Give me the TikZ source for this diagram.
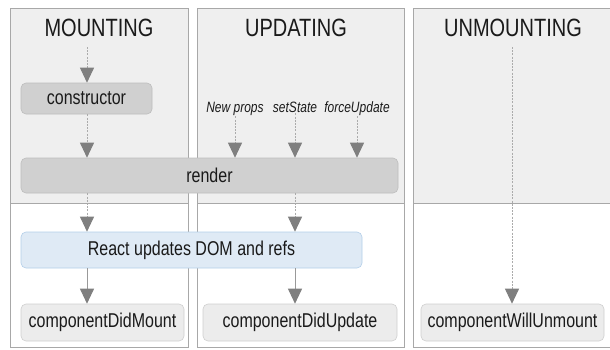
\documentclass[tikz,border=0pt]{standalone}
\usepackage{fontspec}
\setmainfont{Liberation Sans}[FakeStretch=0.8]
\usetikzlibrary{arrows.meta}
\definecolor{bandgrey}{HTML}{EFEFEF}
\definecolor{framegrey}{HTML}{A8A8A8}
\definecolor{boxgrey}{HTML}{D0D0D0}
\definecolor{boxedge}{HTML}{BDBDBD}
\definecolor{lightbox}{HTML}{ECECEC}
\definecolor{lightedge}{HTML}{CFCFCF}
\definecolor{domfill}{HTML}{DFEAF5}
\definecolor{domedge}{HTML}{B3CEE8}
\definecolor{headgrey}{HTML}{7F7F7F}
\definecolor{dashgrey}{HTML}{ABABAB}
\definecolor{inkc}{HTML}{1A1A1A}
\tikzset{
  phase/.style={draw=framegrey, line width=0.8pt},
  title/.style={font=\fontsize{25}{27}\selectfont, text=inkc, inner sep=0pt},
  darkbox/.style={draw=boxedge, fill=boxgrey, rounded corners=5pt, line width=0.6pt,
    font=\fontsize{20}{22}\selectfont, text=inkc, inner sep=0pt},
  lightboxs/.style={darkbox, draw=lightedge, fill=lightbox},
  dombox/.style={darkbox, draw=domedge, fill=domfill},
  trigger/.style={font=\fontsize{15}{17}\selectfont\itshape, text=inkc, inner sep=1pt},
  tip/.style={-{Triangle[width=14pt,length=15pt,color=headgrey]}},
  flowdash/.style={tip, draw=dashgrey, line width=0.9pt, dash pattern=on 2pt off 1.2pt},
  flowsolid/.style={tip, draw=headgrey!80, line width=0.9pt},
}
\begin{document}
\begin{tikzpicture}[x=1pt, y=-1pt]
\useasboundingbox (0,0) rectangle (610,349);

% three phase columns: grey upper band, white lower band
\foreach \xa/\xb in {10/188, 197/404, 413/616} {
  \fill[bandgrey] (\xa,8) rectangle (\xb,203);
  \draw[phase] (\xa,8) rectangle (\xb,347);
  \draw[phase] (\xa,203) -- (\xb,203);
}

% phase titles
\node[title] (tmount) at (99,28) {MOUNTING};
\node[title] (tupdate) at (296,28) {UPDATING};
\node[title] (tunmount) at (513,28) {UNMOUNTING};

% lifecycle boxes
\node[darkbox, minimum width=131pt, minimum height=31pt] (ctor) at (86.5,98.5) {constructor};
\node[darkbox, minimum width=377pt, minimum height=35pt] (render) at (209.5,175.5) {render};
\node[dombox, minimum width=341pt, minimum height=36pt] (dom) at (191.5,250) {React updates DOM and refs};
\node[lightboxs, minimum width=163pt, minimum height=37pt] (didmount) at (102.5,322.5) {componentDidMount};
\node[lightboxs, minimum width=194pt, minimum height=37pt] (didupdate) at (300,322.5) {componentDidUpdate};
\node[lightboxs, minimum width=183pt, minimum height=37pt] (willunmount) at (512.5,322.5) {componentWillUnmount};

% update triggers
\node[trigger, anchor=base] (props) at (235,112) {New props};
\node[trigger, anchor=base] (state) at (295,112) {setState};
\node[trigger, anchor=base] (force) at (357,112) {forceUpdate};

% free starts of the entry arrows
\coordinate (mstart) at (87,47);
\coordinate (ustart) at (512,47);
\coordinate (mx) at (87,0);

% mounting flow
\draw[flowdash] (mstart) -- (ctor.north -| mstart);
\draw[flowdash] (ctor.south -| mx) -- (render.north -| mx);
\draw[flowdash] (render.south -| mx) -- (dom.north -| mx);
\draw[flowsolid] (dom.south -| mx) -- (didmount.north -| mx);

% updating flow
\draw[flowdash] (props.south) -- (render.north -| props);
\draw[flowdash] (state.south) -- (render.north -| state);
\draw[flowdash] (force.south) -- (render.north -| force);
\draw[flowdash] (render.south -| state) -- (dom.north -| state);
\draw[flowsolid] (dom.south -| state) -- (didupdate.north -| state);

% unmounting flow
\draw[flowdash] (ustart) -- (willunmount.north -| ustart);
\end{tikzpicture}
\end{document}
